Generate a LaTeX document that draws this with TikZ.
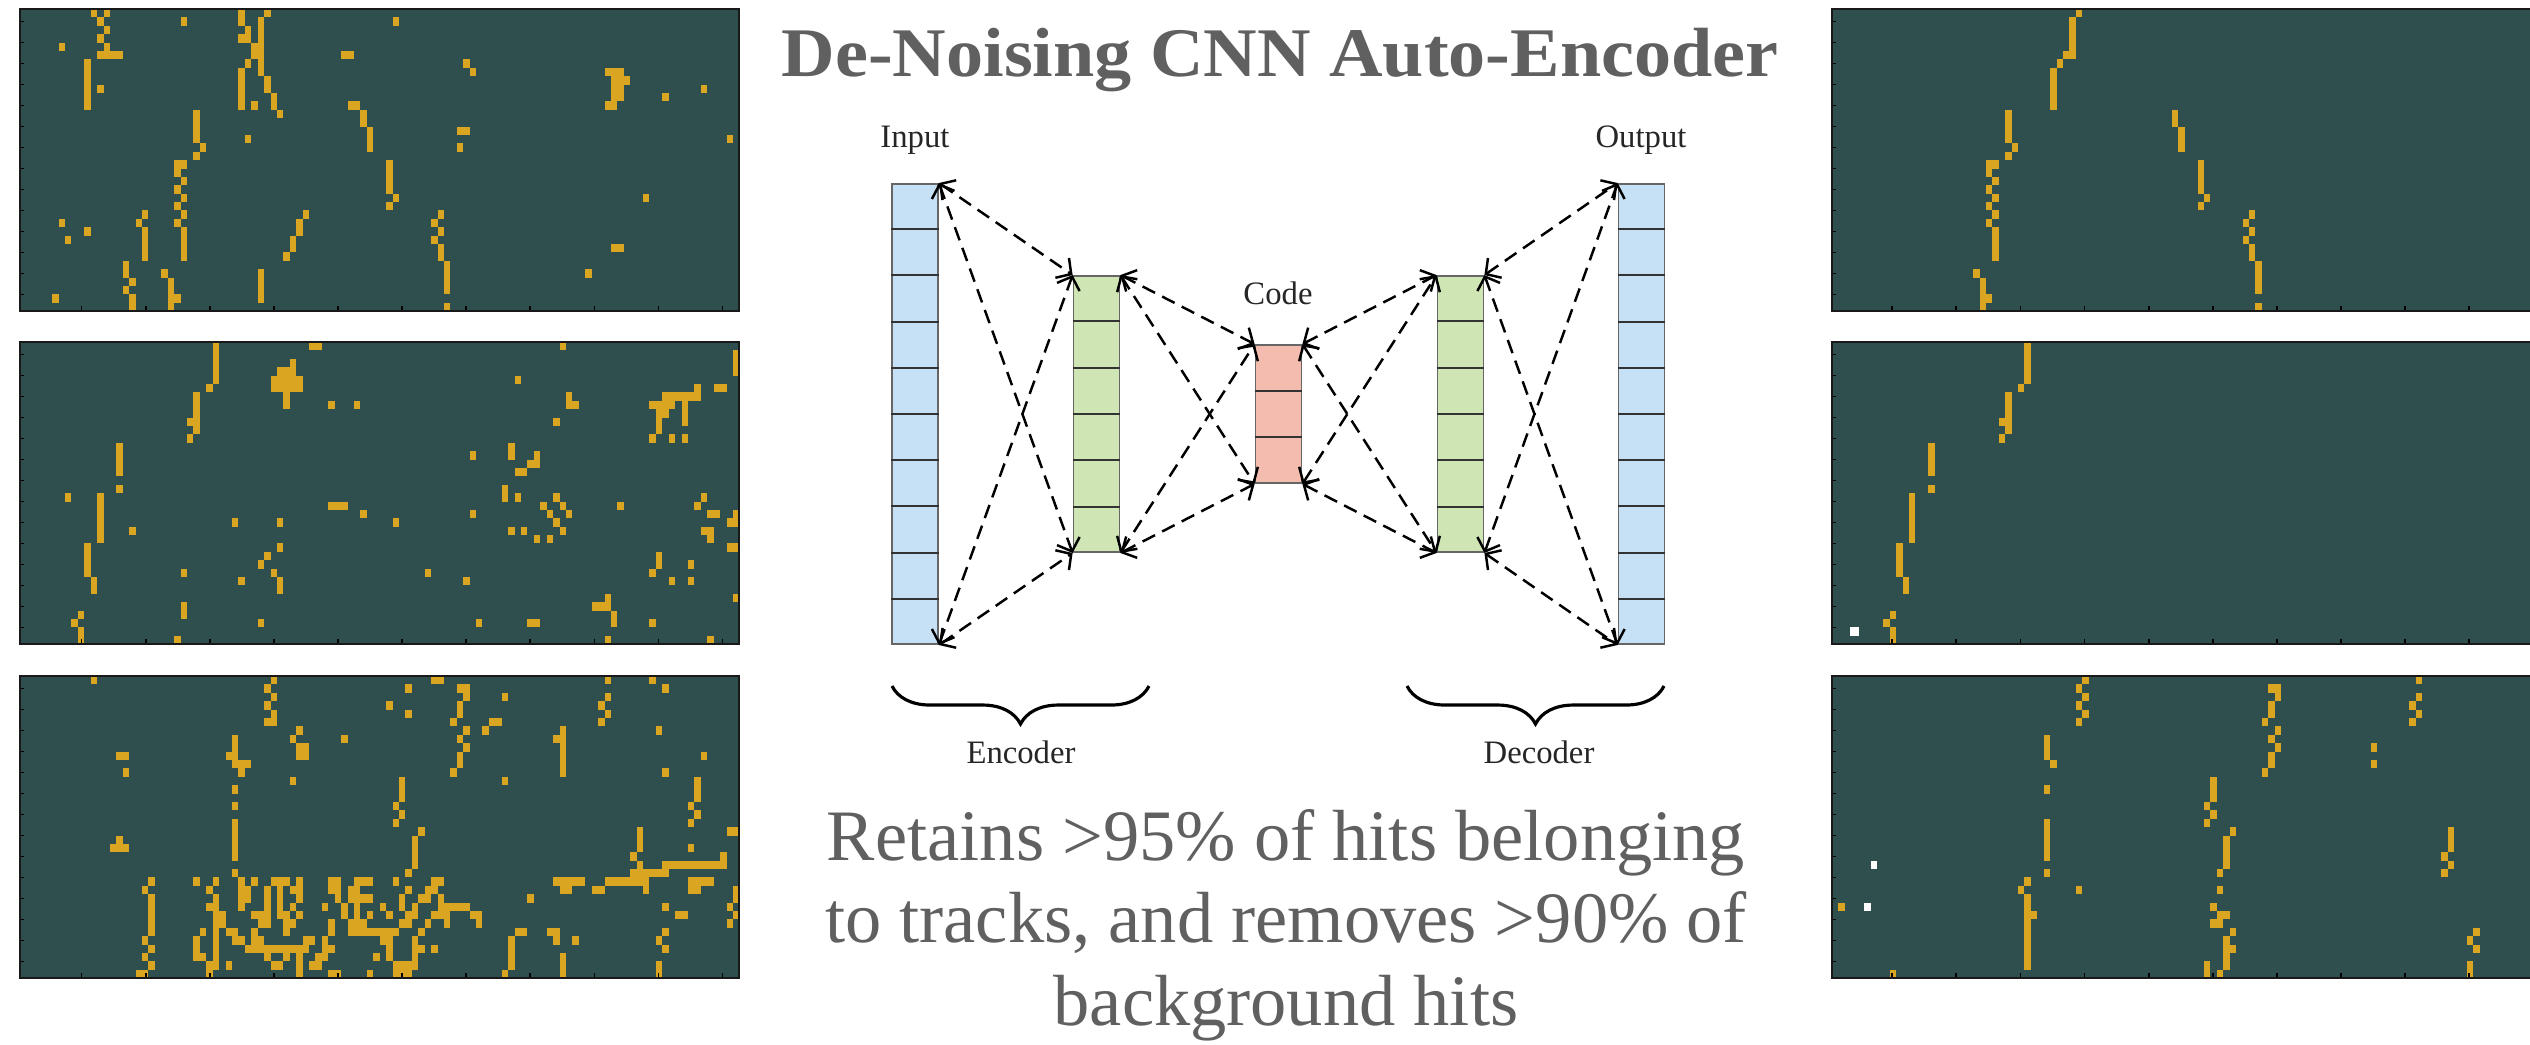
\documentclass[tikz,border=0pt]{standalone}
\usepackage{fontspec}
\setmainfont{Liberation Serif}
\usepackage{graphicx}
\usetikzlibrary{calc}
\usetikzlibrary{arrows.meta}
\usetikzlibrary{decorations.pathreplacing}
\definecolor{slatebg}{RGB}{47,79,79}
\definecolor{hitgold}{RGB}{218,165,32}
\definecolor{layerblue}{RGB}{198,224,245}
\definecolor{layergreen}{RGB}{207,229,180}
\definecolor{layerred}{RGB}{244,188,174}
\definecolor{textgray}{RGB}{96,96,96}

\begin{document}
\begin{tikzpicture}[
        x=0.01cm, y=-0.01cm,
        layer/.style={draw=black!60, line width=0.5pt, minimum width=0.46cm, inner sep=0pt},
        cellline/.style={draw=black!80, line width=0.6pt},
        link/.style={>={Straight Barb[length=1.1mm,width=2.4mm]}, <->, dash pattern=on 1.4mm off 0.8mm, line width=0.7pt},
        lbl/.style={font=\fontsize{9.3}{11}\selectfont, text=black!85, inner sep=0pt},
        brace/.style={decorate, decoration={brace, mirror, amplitude=0.38cm}, line width=0.9pt},
        hit/.style={fill=hitgold},
        tick/.style={draw=black, line width=0.5pt},
        frame/.style={draw=black!90, line width=0.8pt}
    ]
    \useasboundingbox (0,0) rectangle (2530,1044);

    % hit panels
    \foreach \ptop in {9,342,676} {
        \fill[slatebg] (20,\ptop) rectangle (739,{\ptop+302});
        \fill[slatebg] (1832,\ptop) rectangle (2530,{\ptop+302});
    }

    \begin{scope}[shift={(20,9)}, x=0.0642cm, y=-0.0839cm]
        \foreach \cx/\ry/\cw/\rh in {11/0/1/1, 13/0/1/1, 12/1/1/1, 13/2/1/1, 12/3/1/1, 13/4/1/1, 6/4/1/1, 12/5/4/1, 10/6/1/6, 12/9/1/1,
            25/1/1/1, 34/0/1/2, 38/0/1/1, 35/2/1/2, 34/3/1/1, 37/1/1/7, 36/4/1/2, 35/6/1/1, 34/7/1/5, 38/8/1/2, 39/10/1/2, 36/11/1/1, 40/12/1/1,
            58/1/1/1, 50/5/2/1, 69/6/1/1, 70/7/1/1, 91/7/3/1, 92/8/3/1, 92/9/2/2, 91/11/2/1, 106/9/1/1, 100/10/1/1,
            51/11/2/1, 53/12/1/2, 54/14/1/3,
            27/12/1/4, 28/16/1/1, 27/17/1/1, 24/18/2/1, 24/19/1/1, 25/20/1/1, 24/21/1/1, 25/22/1/1, 24/23/1/1, 25/24/1/1, 24/25/1/1, 25/26/1/4,
            35/15/1/1, 68/14/2/1, 68/16/1/1, 110/15/1/1,
            57/18/1/4, 58/22/1/1, 57/23/1/1, 97/22/1/1,
            19/24/1/1, 18/25/1/1, 19/26/1/4, 6/25/1/1, 10/26/1/1, 7/27/1/1,
            44/24/1/1, 43/25/1/2, 42/27/1/2, 41/29/1/1,
            65/24/1/1, 64/25/1/1, 65/26/1/1, 64/27/1/1, 65/28/1/2, 66/30/1/4, 66/35/1/1,
            92/28/2/1, 88/31/1/1,
            16/30/1/2, 17/32/1/1, 16/33/1/1, 17/34/1/2, 22/31/1/1, 23/32/1/4, 24/34/1/1, 37/31/1/4, 5/34/1/1}
            \fill[hit] (\cx,\ry) rectangle ++(\cw,\rh);
    \end{scope}

    \begin{scope}[shift={(20,342)}, x=0.0642cm, y=-0.0839cm]
        \foreach \cx/\ry/\cw/\rh in {30/0/1/5, 29/5/1/1, 27/6/1/5, 26/9/1/1, 26/11/1/1,
            45/0/2/1, 42/2/1/1, 40/3/3/1, 39/4/5/2, 41/6/1/2, 48/7/1/1, 52/7/1/1,
            84/0/1/1, 111/1/1/3, 77/4/1/1, 105/5/1/2, 108/5/2/1, 85/6/1/2, 86/7/1/1,
            100/6/5/1, 98/7/4/1, 103/7/1/3, 99/8/2/1, 99/9/1/2, 83/9/1/1, 98/11/1/1, 101/11/1/1, 103/11/1/1,
            15/12/1/4, 15/17/1/1, 70/13/1/1, 76/12/1/2, 80/13/1/1, 79/14/2/1, 77/15/2/1,
            75/17/1/2, 77/18/1/1, 83/18/1/1, 7/18/1/1, 12/18/1/6, 48/19/3/1, 53/20/1/1, 70/20/1/1,
            81/19/1/1, 84/19/1/1, 82/20/1/1, 85/20/1/1, 83/21/1/1, 84/22/1/1, 76/22/1/1, 78/22/1/1, 80/23/1/1, 82/23/1/1,
            93/19/1/1, 106/18/1/1, 105/19/1/1, 107/20/2/1, 111/20/1/2, 110/21/1/1, 106/22/2/1, 107/23/1/1, 110/24/2/1,
            33/21/1/1, 40/21/1/1, 58/21/1/1, 17/22/1/1, 40/24/1/1, 38/25/1/1, 37/26/1/1, 39/27/1/1, 40/28/1/2, 34/28/1/1,
            25/27/1/1, 25/31/1/2, 10/24/1/4, 11/28/1/2, 9/32/1/1, 8/33/1/1, 9/34/1/2, 24/35/1/1, 37/33/1/1,
            63/27/1/1, 69/28/1/1, 71/33/1/1, 79/33/2/1, 99/25/1/2, 98/27/1/1, 104/26/1/1, 101/28/1/1, 104/28/1/1,
            91/30/1/2, 89/31/2/1, 92/32/1/2, 98/33/1/1, 91/35/1/1, 107/35/1/1, 111/30/1/1}
            \fill[hit] (\cx,\ry) rectangle ++(\cw,\rh);
    \end{scope}

    \begin{scope}[shift={(20,676)}, x=0.0642cm, y=-0.0839cm]
        \foreach \cx/\ry/\cw/\rh in {11/0/1/1, 39/0/1/1, 38/1/1/1, 39/2/1/1, 38/3/1/1, 39/4/1/1, 38/5/2/1,
            64/0/2/1, 60/1/1/1, 60/4/1/1, 57/3/1/1,
            68/1/2/1, 69/2/1/1, 68/3/1/2, 67/5/1/1, 69/6/1/1, 68/7/1/1, 69/8/1/1, 68/9/1/2, 67/11/1/1,
            75/2/1/1, 73/5/2/1, 72/6/1/1,
            91/0/1/1, 91/2/1/1, 90/3/1/1, 91/4/1/1, 90/5/1/1, 98/0/1/1, 100/1/1/1,
            84/6/1/6, 83/7/1/1, 99/6/1/1, 100/11/1/1, 106/9/1/1,
            43/6/1/1, 42/7/1/1, 43/8/2/2, 50/7/1/1,
            33/7/1/3, 32/9/1/1, 33/10/3/1, 34/11/1/1, 15/9/2/1, 16/11/1/1,
            42/12/1/1, 75/12/1/1, 59/12/1/3, 58/15/1/1, 59/16/1/1, 58/17/1/1,
            33/13/1/1, 33/15/1/1, 33/17/1/5, 33/23/1/1,
            105/12/1/3, 104/15/1/1, 105/16/1/1, 104/17/1/1,
            62/18/1/1, 61/19/1/4, 60/23/1/1,
            96/18/1/3, 95/21/1/1, 96/22/1/1, 104/20/1/1, 110/18/2/1,
            15/19/1/1, 14/20/3/1,
            100/22/10/1, 109/21/1/1, 95/23/6/1, 91/24/7/1,
            83/24/5/1, 84/25/2/1, 89/25/2/1, 97/25/1/1, 104/24/4/1, 104/25/2/1,
            111/25/1/2, 110/27/1/1, 111/28/1/1, 110/29/1/1, 79/26/1/1, 100/27/1/1, 102/28/2/1,
            77/30/2/1, 76/31/1/3, 76/34/1/1, 75/35/1/1, 82/30/2/1, 83/31/1/1, 86/31/1/1, 84/33/1/3,
            100/30/1/1, 99/31/1/1, 100/32/1/1, 99/34/1/2,
            20/24/1/1, 19/25/1/1, 20/26/1/5, 19/31/1/1, 20/32/1/1, 19/33/1/1, 20/34/1/1, 18/35/2/1,
            27/24/1/1, 29/25/1/1, 30/24/1/1, 30/26/1/1, 29/27/2/1, 30/28/2/2, 30/30/1/5, 28/30/1/1, 27/31/1/3, 28/33/1/1, 29/34/2/1, 29/35/1/1,
            32/34/1/1, 32/30/2/1, 33/31/2/1,
            34/24/1/4, 35/25/1/1, 35/26/1/1, 36/24/1/1,
            36/28/3/1, 37/29/2/1, 38/25/1/3,
            39/24/3/1, 40/25/1/3, 40/28/2/1, 41/29/2/1, 41/30/1/1,
            42/25/2/1, 42/27/1/1, 43/24/1/3, 43/28/1/1,
            36/30/1/1, 36/31/2/1, 35/32/10/1, 38/33/1/1, 41/33/1/1, 39/34/2/1, 43/33/1/3, 44/31/2/1,
            45/34/2/1, 46/33/2/1, 47/32/2/1, 47/31/1/1,
            48/24/2/2, 49/26/1/1, 47/27/1/1, 48/29/1/2, 48/35/2/1,
            50/27/1/2, 51/25/2/2, 52/24/3/1, 53/26/2/1, 52/27/1/2, 51/29/3/1, 51/30/8/1, 54/28/1/1, 56/27/1/1, 57/28/1/1, 56/31/2/1, 57/32/1/2, 55/33/1/1, 54/35/1/1,
            58/24/1/1, 60/25/1/1, 59/26/1/2, 60/28/2/1, 59/29/2/1, 61/31/1/3, 62/30/1/1, 62/32/1/1, 58/34/2/2, 60/34/2/1, 59/35/2/1,
            61/27/1/1, 62/26/2/1, 63/25/2/1, 64/24/2/1, 65/26/1/1, 65/27/5/1, 64/28/3/1, 63/29/1/1, 66/29/1/1, 70/28/2/1, 71/29/1/1, 64/32/1/1}
            \fill[hit] (\cx,\ry) rectangle ++(\cw,\rh);
    \end{scope}

    \begin{scope}[shift={(1832,9)}, x=0.0641cm, y=-0.0839cm]
        \foreach \cx/\ry/\cw/\rh in {38/0/1/1, 37/1/1/5, 36/5/1/1, 35/6/1/1, 34/7/1/5,
            27/12/1/4, 28/16/1/1, 27/17/1/1, 24/18/2/1, 24/19/1/1, 25/20/1/1, 24/21/1/1, 25/22/1/1, 24/23/1/1, 25/24/1/1, 24/25/1/1, 25/26/1/4,
            53/12/1/2, 54/14/1/3, 57/18/1/4, 58/22/1/1, 57/23/1/1,
            65/24/1/1, 64/25/1/1, 65/26/1/1, 64/27/1/1, 65/28/1/2, 66/30/1/4, 66/35/1/1,
            22/31/1/1, 23/32/1/4, 24/34/1/1}
            \fill[hit] (\cx,\ry) rectangle ++(\cw,\rh);
    \end{scope}

    \begin{scope}[shift={(1832,342)}, x=0.0641cm, y=-0.0839cm]
        \foreach \cx/\ry/\cw/\rh in {30/0/1/5, 29/5/1/1, 27/6/1/5, 26/9/1/1, 26/11/1/1, 15/12/1/4, 15/17/1/1,
            12/18/1/6, 10/24/1/4, 11/28/1/2, 9/32/1/1, 8/33/1/1, 9/34/1/2}
            \fill[hit] (\cx,\ry) rectangle ++(\cw,\rh);
        \fill[white] (2.76,34) rectangle ++(1.4,1);
    \end{scope}

    \begin{scope}[shift={(1832,676)}, x=0.0641cm, y=-0.0839cm]
        \foreach \cx/\ry/\cw/\rh in {39/0/1/1, 38/1/1/1, 39/2/1/1, 38/3/1/1, 39/4/1/1, 38/5/1/1,
            68/1/2/1, 69/2/1/1, 68/3/1/2, 67/5/1/1, 69/6/1/1, 68/7/1/1, 69/8/1/1, 68/9/1/2, 67/11/1/1,
            91/0/1/1, 91/2/1/1, 90/3/1/1, 91/4/1/1, 90/5/1/1, 84/8/1/1, 84/10/1/1,
            33/7/1/3, 34/10/1/1, 33/13/1/1, 33/17/1/5, 33/23/1/1,
            59/12/1/3, 58/15/1/1, 59/16/1/1, 58/17/1/1,
            62/18/1/1, 61/19/1/4, 60/23/1/1, 60/25/1/1,
            96/18/1/3, 95/21/1/1, 96/22/1/1, 95/23/1/1,
            30/24/1/1, 29/25/1/1, 30/26/1/9, 31/28/1/1, 38/25/1/1,
            59/27/1/1, 60/28/2/1, 59/29/2/1, 62/30/1/1, 61/31/1/4, 62/32/1/1, 58/34/1/2, 60/35/1/1,
            100/30/1/1, 99/31/1/1, 100/32/1/1, 99/34/1/2,
            1/27/1/1, 9/35/1/1}
            \fill[hit] (\cx,\ry) rectangle ++(\cw,\rh);
        \fill[white] (6,22) rectangle ++(1,1);
        \fill[white] (5,27) rectangle ++(1,1);
    \end{scope}

    \foreach \ptop in {9,342,676} {
        \foreach \k in {0,...,13}
            \draw[tick] (20,{\ptop+12.5+21*\k}) -- ++(4,0)
                        (1832,{\ptop+12.5+21*\k}) -- ++(4,0);
        \foreach \k in {0,...,10}
            \draw[tick] ({81.6+64.1*\k},{\ptop+302}) -- ++(0,-5);
        \foreach \k in {0,...,9}
            \draw[tick] ({1892.2+64.1*\k},{\ptop+302}) -- ++(0,-5);
        \draw[frame] (20,\ptop) rectangle (739,{\ptop+302});
        \draw[frame] (2531,\ptop) -- (1832,\ptop) -- (1832,{\ptop+302}) -- (2531,{\ptop+302});
    }

    % network
    \node[text=textgray, anchor=base, inner sep=0pt] (title) at (1280,76)
        {\resizebox{9.96cm}{\height}{\fontsize{19.8}{22}\selectfont\bfseries De-Noising CNN Auto-Encoder}};

    \node[layer, fill=layerblue, minimum height=4.60cm] (in) at (915,414) {};
    \node[layer, fill=layergreen, minimum height=2.76cm] (enc) at (1096.5,414) {};
    \node[layer, fill=layerred, minimum height=1.38cm] (code) at (1278.5,414) {};
    \node[layer, fill=layergreen, minimum height=2.76cm] (dec) at (1460.5,414) {};
    \node[layer, fill=layerblue, minimum height=4.60cm] (out) at (1641.5,414) {};

    \foreach \lay/\k in {in/10, enc/6, code/3, dec/6, out/10} {
        \pgfmathtruncatemacro\last{\k-1}
        \foreach \i in {1,...,\last}
            \draw[cellline] ($(\lay.north west)!\i/\k!(\lay.south west)$) -- ($(\lay.north east)!\i/\k!(\lay.south east)$);
    }

    \node[lbl, anchor=base] (inlbl) at (915,147) {Input};
    \node[lbl, anchor=base] (codelbl) at (1278,304) {Code};
    \node[lbl, anchor=base] (outlbl) at (1641,147) {Output};

    \foreach \a/\b in {in/enc, enc/code, code/dec, dec/out} {
        \draw[link] (\a.north east) -- (\b.north west);
        \draw[link] (\a.north east) -- (\b.south west);
        \draw[link] (\a.south east) -- (\b.north west);
        \draw[link] (\a.south east) -- (\b.south west);
    }

    \coordinate (encL) at (892,686);
    \coordinate (encR) at (1149,686);
    \coordinate (decL) at (1407,686);
    \coordinate (decR) at (1664,686);
    \draw[brace] (encL) -- (encR);
    \draw[brace] (decL) -- (decR);
    \node[lbl, anchor=base] (enclbl) at (1021,763) {Encoder};
    \node[lbl, anchor=base] (declbl) at (1539,763) {Decoder};

    \node[text=textgray, anchor=base, inner sep=0pt] (summary) at (1286,860)
        {\fontsize{20.6}{23.5}\selectfont
         \begin{tabular}[t]{@{}c@{}}Retains >95\% of hits belonging\\ to tracks, and removes >90\% of\\ background hits\end{tabular}};
\end{tikzpicture}
\end{document}
